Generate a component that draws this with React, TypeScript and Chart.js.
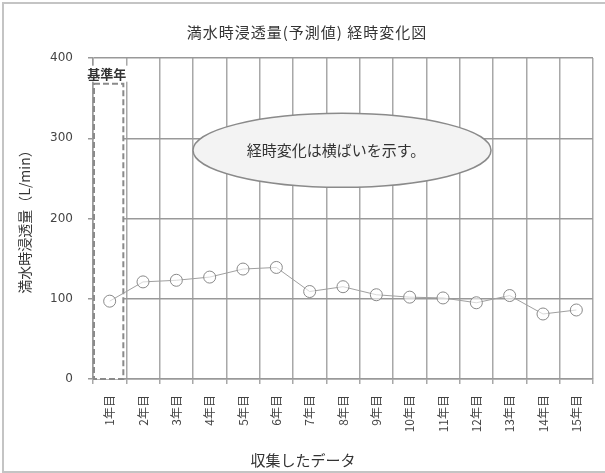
import React, { useEffect, useRef } from "react";
import { Chart, registerables } from "chart.js";

Chart.register(...registerables);

const categories = [
  "1年目", "2年目", "3年目", "4年目", "5年目", "6年目", "7年目", "8年目",
  "9年目", "10年目", "11年目", "12年目", "13年目", "14年目", "15年目",
];
const seepage = [97, 121, 123, 127, 137, 139, 109, 115, 105, 102, 101, 95, 104, 81, 86];
const yTicks = [0, 100, 200, 300, 400];
const baseYearTop = 368;
const baseYearLabel = "基準年";
const chartTitle = "満水時浸透量(予測値) 経時変化図";
const yTitle = "満水時浸透量（L/min）";
const xTitle = "収集したデータ";
const noteText = "経時変化は横ばいを示す。";
const noteValue = 285;

const JP = "'Noto Sans CJK JP', 'Noto Sans', sans-serif";

const decorPlugin = {
  id: "decor",
  beforeDraw(chart: any) {
    const ctx = chart.ctx;
    ctx.save();
    ctx.fillStyle = "#ffffff";
    ctx.fillRect(0, 0, chart.width, chart.height);
    ctx.strokeStyle = "#c4c4c4";
    ctx.lineWidth = 2;
    ctx.strokeRect(3, 3, chart.width + 4, chart.height - 4);
    ctx.fillStyle = "#333";
    ctx.textAlign = "center";
    ctx.textBaseline = "middle";
    // title
    ctx.font = `15px ${JP}`;
    (ctx as any).letterSpacing = "1px";
    ctx.fillText(chartTitle, 307, 32);
    // x-axis title
    (ctx as any).letterSpacing = "0px";
    ctx.font = `15px ${JP}`;
    ctx.fillText(xTitle, 303, 460);
    ctx.restore();
  },
  beforeDatasetsDraw(chart: any) {
    const ctx = chart.ctx;
    const xs = chart.scales.x;
    const ys = chart.scales.y;
    const area = chart.chartArea;
    const w = (area.right - area.left) / categories.length;
    const cx = xs.getPixelForValue(0);
    ctx.save();
    // dashed base-year box
    const left = cx - w / 2 + 1;
    const right = cx + w / 2 - 3;
    const top = ys.getPixelForValue(baseYearTop);
    const bottom = ys.getPixelForValue(0);
    ctx.fillStyle = "#ffffff";
    ctx.fillRect(left, top, right - left, bottom - top);
    ctx.setLineDash([6, 3]);
    ctx.strokeStyle = "#8a8a8a";
    ctx.lineWidth = 2;
    ctx.strokeRect(left, top, right - left, bottom - top);
    ctx.setLineDash([]);
    ctx.fillStyle = "#ffffff";
    ctx.fillRect(left - 8, top - 18, right - left + 14, 16);
    ctx.fillStyle = "#333";
    ctx.font = `bold 13px ${JP}`;
    ctx.textAlign = "center";
    ctx.textBaseline = "middle";
    ctx.fillText(baseYearLabel, (left + right) / 2 - 2, top - 10);
    // ellipse note
    const ex = (area.left + area.right) / 2 - 1;
    const ey = ys.getPixelForValue(noteValue);
    ctx.beginPath();
    ctx.ellipse(ex, ey, 149, 37, 0, 0, Math.PI * 2);
    ctx.fillStyle = "#f3f3f3";
    ctx.fill();
    ctx.strokeStyle = "#8a8a8a";
    ctx.lineWidth = 1.5;
    ctx.stroke();
    ctx.fillStyle = "#333";
    ctx.font = `15px ${JP}`;
    ctx.fillText(noteText, ex - 6, ey);
    ctx.restore();
  },
};

export default function App() {
  const ref = useRef<HTMLCanvasElement | null>(null);
  useEffect(() => {
    document.body.style.margin = "0";
    const chart = new Chart(ref.current as HTMLCanvasElement, {
      type: "line",
      data: {
        labels: categories,
        datasets: [
          {
            data: seepage,
            borderColor: "#a0a0a0",
            borderWidth: 1,
            pointRadius: 6,
            pointBorderColor: "#8a8a8a",
            pointBackgroundColor: "rgba(255,255,255,0.6)",
            pointBorderWidth: 1,
            tension: 0,
          },
        ],
      },
      options: {
        animation: false,
        responsive: false,
        devicePixelRatio: 1,
        layout: { padding: { left: 0, right: 12, top: 58, bottom: 0 } },
        plugins: {
          legend: { display: false },
          title: { display: false },
          tooltip: { enabled: false },
        },
        scales: {
          x: {
            offset: true,
            grid: { offset: true, color: "#a8a8a8", lineWidth: 1.5, tickLength: 5 },
            border: { color: "#999", width: 1.5 },
            ticks: {
              minRotation: 90,
              maxRotation: 90,
              padding: 11,
              color: "#444",
              font: { family: JP, size: 12 },
            },
            afterFit(scale: any) {
              scale.height = 94;
            },
          },
          y: {
            min: 0,
            max: 400,
            afterBuildTicks(scale: any) {
              scale.ticks = yTicks.map((v) => ({ value: v }));
            },
            grid: { color: "#999", lineWidth: 1.5, tickLength: 5 },
            border: { color: "#999", width: 1.5 },
            ticks: {
              padding: 15,
              color: "#444",
              font: { family: "'DejaVu Sans', sans-serif", size: 12 },
            },
            title: {
              display: true,
              text: yTitle,
              color: "#333",
              font: { family: JP, size: 14 },
              padding: { top: 16, bottom: 0 },
            },
            afterFit(scale: any) {
              scale.width = 93;
            },
          },
        },
      },
      plugins: [decorPlugin],
    });
    return () => chart.destroy();
  }, []);
  return (
    <div style={{ position: "fixed", left: 0, top: 0, width: 605, height: 473 }}>
      <canvas ref={ref} width={605} height={473} style={{ width: 605, height: 473 }} />
    </div>
  );
}
